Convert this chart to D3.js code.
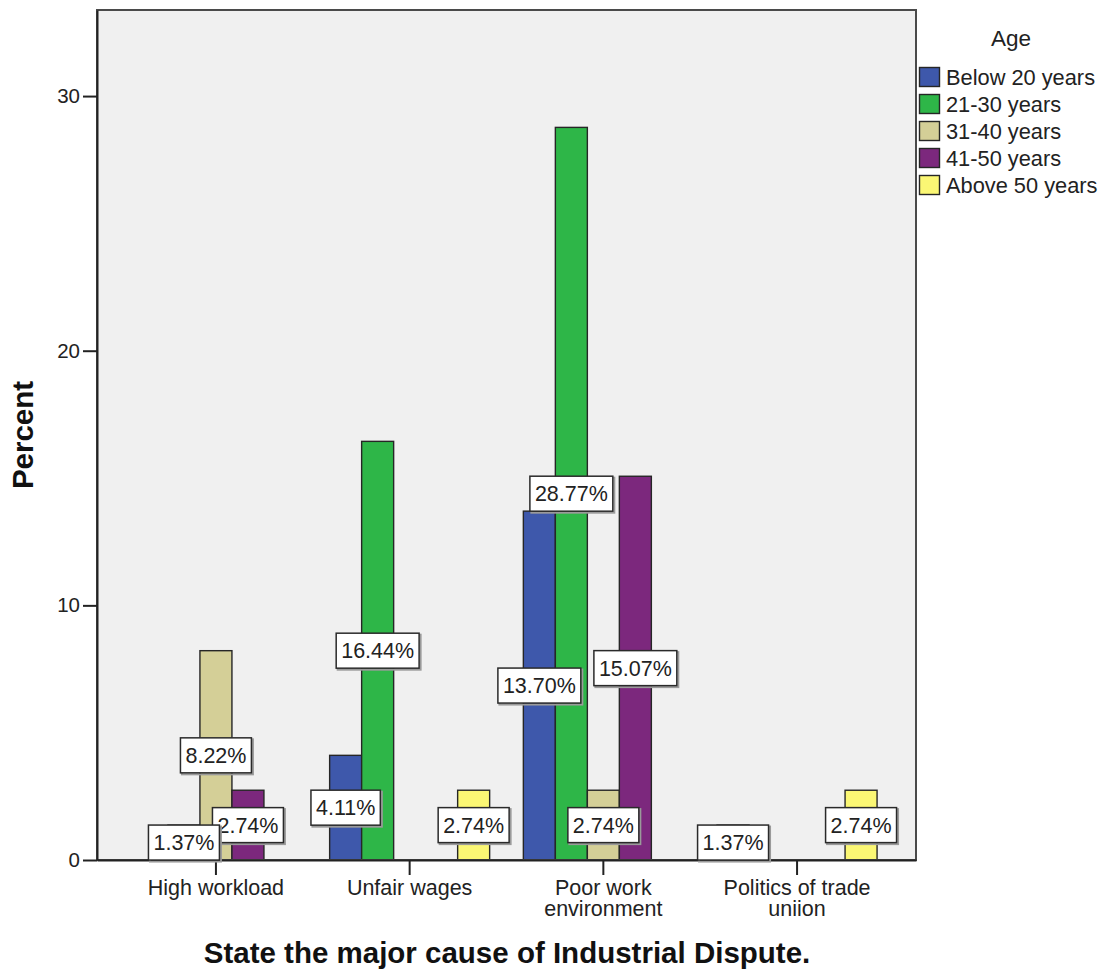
<!DOCTYPE html>
<html>
<head>
<meta charset="utf-8">
<script src="https://cdn.jsdelivr.net/npm/d3@7"></script>
<style>
  html, body { margin: 0; padding: 0; background: #ffffff; }
  svg { display: block; font-family: "Liberation Sans", Arial, sans-serif; }
</style>
</head>
<body>
<svg id="chart" width="1106" height="976"></svg>
<script>
// Causes of industrial dispute, split by age group (percent of respondents)
const categories = ["High workload", "Unfair wages", "Poor work environment", "Politics of trade uniion"];
const categoryLines = [["High workload"], ["Unfair wages"], ["Poor work", "environment"], ["Politics of trade", "uniion"]];
const ageGroups = ["Below 20 years", "21-30 years", "31-40 years", "41-50 years", "Above 50 years"];
const ageColors = ["#3e58ab", "#2eb648", "#d4cf97", "#7c287d", "#fbf774"];

const below20 = [0, 4.11, 13.70, 1.37];
const age21to30 = [1.37, 16.44, 28.77, 0];
const age31to40 = [8.22, 0, 2.74, 0];
const age41to50 = [2.74, 0, 15.07, 0];
const above50 = [0, 2.74, 0, 2.74];
const seriesValues = [below20, age21to30, age31to40, age41to50, above50];

const yTicks = [0, 10, 20, 30];
const yMax = 33.38;
const yTitle = "Percent";
const xTitle = "State the major cause of Industrial Dispute.";
const legendTitle = "Age";

const svg = d3.select("#chart");
const plot = { left: 97, right: 916, top: 10, bottom: 860 };

const x0 = d3.scaleBand()
  .domain(categories)
  .range([plot.left, plot.right])
  .paddingInner(0.174)
  .paddingOuter(0.201);

const x1 = d3.scaleBand()
  .domain(ageGroups)
  .range([0, x0.bandwidth()]);

const y = d3.scaleLinear().domain([0, yMax]).range([plot.bottom, plot.top]);

const color = d3.scaleOrdinal().domain(ageGroups).range(ageColors);

// plot background
svg.append("rect")
  .attr("x", plot.left).attr("y", plot.top)
  .attr("width", plot.right - plot.left).attr("height", plot.bottom - plot.top)
  .attr("fill", "#f0f0f0");

// bars
const barData = [];
categories.forEach((c, i) => {
  ageGroups.forEach((g, j) => {
    const v = seriesValues[j][i];
    if (v > 0) barData.push({ category: c, group: g, value: v });
  });
});

svg.append("g").selectAll("rect")
  .data(barData)
  .join("rect")
  .attr("x", d => x0(d.category) + x1(d.group))
  .attr("y", d => y(d.value))
  .attr("width", x1.bandwidth())
  .attr("height", d => y(0) - y(d.value))
  .attr("fill", d => color(d.group))
  .attr("stroke", "#262626")
  .attr("stroke-width", 1.4);

// plot frame
svg.append("rect")
  .attr("x", plot.left).attr("y", plot.top)
  .attr("width", plot.right - plot.left).attr("height", plot.bottom - plot.top)
  .attr("fill", "none")
  .attr("stroke", "#4a4a4a")
  .attr("stroke-width", 2);

// y axis
const yAxis = svg.append("g")
  .attr("transform", `translate(${plot.left},0)`)
  .call(d3.axisLeft(y).tickValues(yTicks).tickFormat(d3.format("d"))
    .tickSizeInner(14).tickSizeOuter(0).tickPadding(3));
yAxis.select(".domain").attr("stroke", "#222").attr("stroke-width", 2);
yAxis.selectAll(".tick line").attr("stroke", "#222").attr("stroke-width", 2);
yAxis.selectAll(".tick text")
  .attr("font-size", 20.5).attr("fill", "#222")
  .attr("font-family", "'Liberation Sans', Arial, sans-serif");

// x axis
const xAxis = svg.append("g")
  .attr("transform", `translate(0,${plot.bottom})`)
  .call(d3.axisBottom(x0).tickSizeInner(15).tickSizeOuter(0).tickFormat(""));
xAxis.select(".domain").attr("stroke", "#222").attr("stroke-width", 2);
xAxis.selectAll(".tick line").attr("stroke", "#222").attr("stroke-width", 2);

const catLabel = svg.append("g")
  .attr("font-size", 21.5).attr("fill", "#222").attr("text-anchor", "middle");
categories.forEach((c, i) => {
  const cx = x0(c) + x0.bandwidth() / 2;
  const t = catLabel.append("text")
    .attr("x", cx)
    .attr("y", 895);
  categoryLines[i].forEach((line, k) => {
    t.append("tspan")
      .attr("x", cx)
      .attr("dy", k === 0 ? 0 : 21)
      .text(line);
  });
});

// axis titles
svg.append("text")
  .attr("transform", `translate(33,435) rotate(-90)`)
  .attr("text-anchor", "middle")
  .attr("font-size", 29.5).attr("font-weight", "bold").attr("fill", "#111")
  .text(yTitle);

svg.append("text")
  .attr("x", 507)
  .attr("y", 963)
  .attr("text-anchor", "middle")
  .attr("font-size", 29.5).attr("font-weight", "bold").attr("fill", "#111")
  .text(xTitle);

// value labels, centred on each bar; smaller values drawn on top
const labelData = barData.slice().sort((a, b) => b.value - a.value);
const labels = svg.append("g").selectAll("g")
  .data(labelData)
  .join("g")
  .attr("transform", d => `translate(${x0(d.category) + x1(d.group) + x1.bandwidth() / 2},${(y(d.value) + y(0)) / 2})`);

labels.each(function(d) {
  const g = d3.select(this);
  const shadow = g.append("rect");
  const box = g.append("rect");
  const txt = g.append("text")
    .attr("text-anchor", "middle")
    .attr("dy", "0.36em")
    .attr("font-size", 21.5)
    .attr("fill", "#222")
    .text(d3.format(".2f")(d.value) + "%");
  const w = txt.node().getComputedTextLength() + 10;
  const h = 35;
  shadow.attr("x", -w / 2 + 1.5).attr("y", -h / 2 + 1.5).attr("width", w).attr("height", h)
    .attr("fill", "none").attr("stroke", "#9a9a9a").attr("stroke-width", 2);
  box.attr("x", -w / 2).attr("y", -h / 2).attr("width", w).attr("height", h)
    .attr("fill", "#ffffff").attr("stroke", "#2a2a2a").attr("stroke-width", 1.5);
});

// legend
const legend = svg.append("g");
legend.append("text")
  .attr("x", 1011).attr("y", 46)
  .attr("text-anchor", "middle")
  .attr("font-size", 22.5).attr("fill", "#222")
  .text(legendTitle);

const rowY = d3.scalePoint().domain(ageGroups).range([77, 185]);
const rows = legend.selectAll("g.row")
  .data(ageGroups)
  .join("g")
  .attr("class", "row")
  .attr("transform", d => `translate(0,${rowY(d)})`);
rows.append("rect")
  .attr("x", 919.5).attr("y", -9.5)
  .attr("width", 20).attr("height", 19)
  .attr("fill", d => color(d))
  .attr("stroke", "#262626").attr("stroke-width", 1.4);
rows.append("text")
  .attr("x", 946).attr("y", 7.5)
  .attr("font-size", 21.8).attr("fill", "#222")
  .text(d => d);
</script>
</body>
</html>
